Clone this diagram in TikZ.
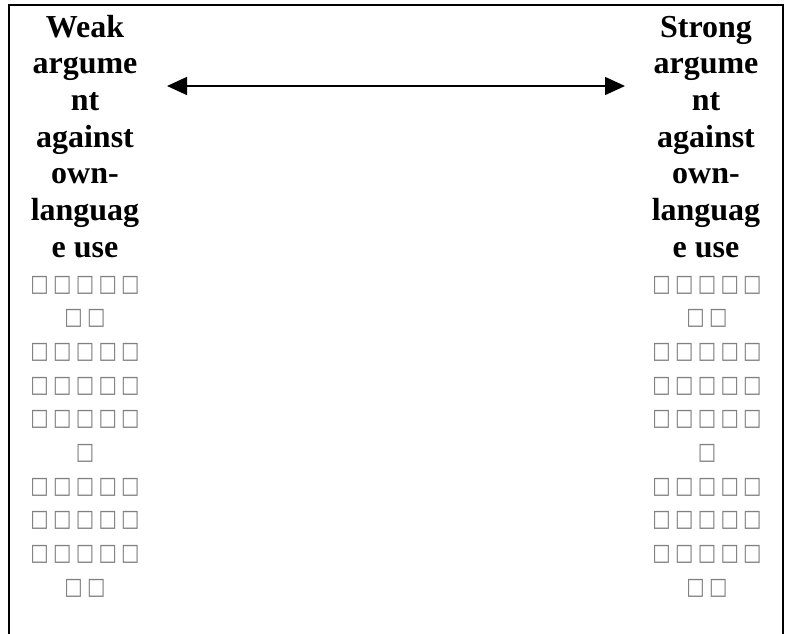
\documentclass[tikz,border=0pt]{standalone}
\usepackage{fontspec}
\usepackage{graphicx}
\setmainfont{Liberation Serif}
\newfontfamily\tofufont{DejaVu Sans}
\usetikzlibrary{arrows.meta}
\newcommand\tofu{\makebox[22.7pt]{\resizebox*{18.4pt}{18pt}{\tofufont □}}}
\tikzset{
  frameline/.style={line width=2pt, black},
  headtext/.style={align=center, inner sep=0pt, anchor=base,
    font=\bfseries\fontsize{32}{36.7}\selectfont},
  tofutext/.style={align=center, inner sep=0pt, anchor=base, text=black!50,
    font=\fontsize{20}{33.7}\selectfont},
  bothway/.style={line width=1.5pt, {Triangle[length=20pt,width=18pt]}-{Triangle[length=20pt,width=18pt]}}
}
\begin{document}
\begin{tikzpicture}[x=1pt,y=1pt]
\useasboundingbox (0,0) rectangle (792,-634);
\fill[white] (0,0) rectangle (792,-634);
\draw[frameline] (9,-634) -- (9,-5) -- (783,-5) -- (783,-634);
\node[headtext] (weak) at (85,-257.2) {Weak\\argume\\nt\\against\\own-\\languag\\e use};
\node[headtext] (strong) at (706,-257.2) {Strong\\argume\\nt\\against\\own-\\languag\\e use};
\node[tofutext] (lbox) at (85,-594.3) {\tofu\tofu\tofu\tofu\tofu\\\tofu\tofu\\\tofu\tofu\tofu\tofu\tofu\\\tofu\tofu\tofu\tofu\tofu\\\tofu\tofu\tofu\tofu\tofu\\\tofu\\\tofu\tofu\tofu\tofu\tofu\\\tofu\tofu\tofu\tofu\tofu\\\tofu\tofu\tofu\tofu\tofu\\\tofu\tofu};
\node[tofutext] (rbox) at (707,-594.3) {\tofu\tofu\tofu\tofu\tofu\\\tofu\tofu\\\tofu\tofu\tofu\tofu\tofu\\\tofu\tofu\tofu\tofu\tofu\\\tofu\tofu\tofu\tofu\tofu\\\tofu\\\tofu\tofu\tofu\tofu\tofu\\\tofu\tofu\tofu\tofu\tofu\\\tofu\tofu\tofu\tofu\tofu\\\tofu\tofu};
\coordinate (al) at (167,-86);
\coordinate (ar) at (625,-86);
\draw[bothway] (al) -- (ar);
\end{tikzpicture}
\end{document}
